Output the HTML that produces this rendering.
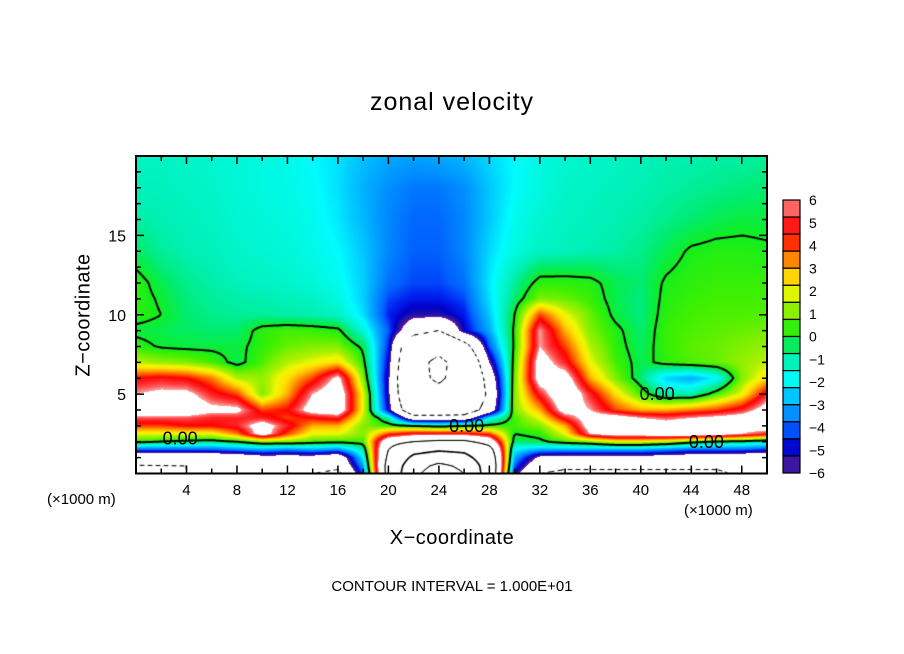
<!DOCTYPE html>
<html><head><meta charset="utf-8"><style>
body{margin:0;background:#fff;}
#wrap{position:relative;width:904px;height:654px;overflow:hidden;background:#fff;font-family:"Liberation Sans",sans-serif;}
.t{position:absolute;color:#000;white-space:nowrap;}
canvas{position:absolute;left:0;top:0;}
</style></head><body>
<div id="wrap">
<canvas id="cv" width="904" height="654"></canvas>
<svg id="ov" width="904" height="654" style="position:absolute;left:0;top:0"></svg>
<div class="t" style="left:0;width:904px;text-align:center;top:88px;font-size:25px;letter-spacing:1px;">zonal velocity</div>
<div class="t" style="left:84px;top:315px;font-size:20px;transform:translate(-50%,-50%) rotate(-90deg);letter-spacing:0.5px;">Z−coordinate</div>
<div class="t" style="left:0;width:904px;text-align:center;top:527px;font-size:20px;letter-spacing:0.5px;">X−coordinate</div>
<div class="t" style="left:47px;top:491px;font-size:15px;">(×1000 m)</div>
<div class="t" style="left:684px;top:502px;font-size:15px;">(×1000 m)</div>
<div class="t" style="left:0;width:904px;text-align:center;top:578px;font-size:15px;">CONTOUR INTERVAL = 1.000E+01</div>
</div>
<script>
const xCoords=[0,2,4,6,8,10,12,14,16,18,20,22,24,26,28,30,32,34,36,38,40,42,44,46,48,50];
const zCoords=[20,18,16,14,12,11,10,9,8,7,6,5,4,3.5,3,2.5,2,1.5,1,0.5,0];
const velocity=[
[-1.2,-1.2,-1.3,-1.4,-1.5,-1.6,-1.7,-2,-2.3,-2.7,-3,-3.1,-3,-2.8,-2.4,-2,-1.6,-1.4,-1.3,-1.2,-1.1,-1,-1,-0.9,-0.9,-0.8],
[-1.1,-1.1,-1.2,-1.3,-1.5,-1.6,-1.7,-1.9,-2.3,-2.9,-3.4,-3.7,-3.7,-3.4,-2.6,-2,-1.6,-1.3,-1.2,-1.1,-1,-0.9,-0.8,-0.7,-0.6,-0.5],
[-0.9,-1,-1.1,-1.2,-1.4,-1.5,-1.6,-1.8,-2.2,-2.8,-3.5,-3.9,-3.9,-3.5,-2.6,-1.8,-1.4,-1.2,-1.1,-1,-0.9,-0.7,-0.5,-0.3,-0.2,-0.2],
[-0.4,-0.8,-1,-1.1,-1.3,-1.4,-1.5,-1.7,-2,-2.6,-3.5,-4,-4,-3.5,-2.4,-1.6,-1.2,-1.1,-1,-0.9,-0.7,-0.3,0.1,0.2,0.2,0.1],
[0.3,-0.3,-0.7,-0.9,-1.1,-1.2,-1.3,-1.5,-1.8,-2.5,-3.8,-4.2,-4.2,-3.8,-2.2,-0.8,0.3,0.3,0.2,-0.3,-0.5,0.1,0.3,0.4,0.4,0.4],
[0.3,-0.1,-0.6,-0.8,-0.9,-1,-1.1,-1.2,-1.6,-2.5,-4.2,-4.6,-4.6,-4.2,-2.3,-0.5,1,0.8,0.4,-0.3,-0.6,0.2,0.4,0.5,0.5,0.5],
[0.3,0,-0.5,-0.7,-0.8,-0.8,-0.9,-1,-1.2,-2.3,-4.5,-5.4,-5.4,-4.6,-2.6,0,4,2,0.8,-0.2,-0.6,0.3,0.5,0.6,0.6,0.6],
[-0.2,-0.3,-0.4,-0.5,-0.5,0.3,0.5,0.4,0.2,-1.5,-4,-8,-10,-5,-3,0.2,6,3,1,0.2,-0.5,0.4,0.6,0.7,0.8,0.9],
[0.3,-0.1,-0.2,-0.2,-0.2,0.3,0.8,1,1,-0.2,-4.5,-15,-17,-12,-4,0.2,6,4,1.5,0.3,-0.4,0.4,0.7,0.8,1,1.2],
[1.5,1.2,1,0.5,-0.3,0.6,1.5,2,2.5,0.3,-5,-17,-22,-16,-6,0.5,7,5,2,0.5,-0.3,0.3,0.6,0.8,1.2,1.6],
[4.5,4.8,4.5,3.5,1.5,1.2,2.5,4,6.5,1,-5.5,-18,-21,-17,-8,0.8,7,7,3,1,-0.5,-2.5,-3,-2,1,2.5],
[6,6.5,6.5,5,4,1,3,6,7.5,2,-5.5,-17,-18,-16,-9,1,5,8,5,2.5,0.5,-1,-1,0.5,2,5],
[8,8,7.5,6.5,6.5,4,4.5,7,7.5,2,-5,-14,-14,-13,-8,1,3,7,6,4,3,3,3.5,4,5,7],
[5.5,5.5,5.5,5,5,5,4,4.5,5,1.5,-1,-8,-8,-8,-2,0.5,2,5,7,7,6,5.5,6,6.5,7,8],
[4,4,4.5,4.5,5,7,5,3,3,1,0.5,0,-0.5,0,0.3,0.5,1,3,7,7.5,7.5,7,7.5,7.5,7,7.5],
[2,2,2,2,3.5,7,4,2,2,1,4,5,5,5,4,0,0.3,2,6,7,7,7.5,7.5,7,6,5],
[0.3,0,-0.3,-0.5,0,1,1,0.5,0.3,0.5,8,10,11,11,8,-0.5,-0.2,0.5,1,2,2,1.5,0.5,-0.3,-0.5,-1],
[-4,-4,-4,-4,-3.5,-3,-3.5,-3,-3.5,-1,10,17,19,18,12,-2,-3,-3,-3,-3,-3,-3.5,-4,-4,-4,-4.5],
[-9,-9,-9,-8.5,-8,-7,-7,-7,-8,-2,11,22,25,23,14,-3,-6.5,-7,-7,-7,-7,-7,-7.5,-7.5,-8,-8.5],
[-10,-10,-10,-9,-8,-8,-7,-8,-9,-3,12,26,32,28,15,-4,-8,-9,-9,-9,-9,-9,-9,-9,-8,-9],
[-12,-11,-10,-10,-9,-9,-8,-10,-11,-4,12,28,35,30,15,-5,-10,-11,-11,-11,-11,-11,-11,-11,-9,-10]
];
const colorTickLabels=["6","5","4","3","2","1","0","−1","−2","−3","−4","−5","−6"];
const xTickLabels=["4","8","12","16","20","24","28","32","36","40","44","48"];
const zTickLabels=["5","10","15"];
const contourLevels=[-20,-10,0,10,20,30];
const zeroLabelSpots=[[3.5,2.2],[26.2,3.0],[41.3,5.0],[45.2,2.0]];

const PL=136,PT=156,PR=767,PB=473.5,PW=PR-PL,PH=PB-PT;
const X0=0,X1=50,Z0=0,Z1=20;
function sx(x){return PL+(x-X0)/(X1-X0)*PW;}
function sz(z){return PB-(z-Z0)/(Z1-Z0)*PH;}
function field(x,z){
  let n=xCoords.length;
  let i=0; while(i<n-2&&x>xCoords[i+1])i++;
  let tx=(x-xCoords[i])/(xCoords[i+1]-xCoords[i]); tx=Math.max(0,Math.min(1,tx));
  let m=zCoords.length;
  let k=0; while(k<m-2&&z<zCoords[k+1])k++;
  let tz=(zCoords[k]-z)/(zCoords[k]-zCoords[k+1]); tz=Math.max(0,Math.min(1,tz));
  const a=velocity[k][i],b=velocity[k][i+1],c=velocity[k+1][i],d=velocity[k+1][i+1];
  return (a*(1-tx)+b*tx)*(1-tz)+(c*(1-tx)+d*tx)*tz;
}
const stops=[[-6,"7010a8"],[-5.5,"2818a0"],[-5,"0000c8"],[-4.5,"0020f0"],[-4,"0060ff"],[-3.5,"0088ff"],[-3,"00aaff"],[-2.5,"00d0ff"],[-2,"00fcff"],[-1.5,"00f8d8"],[-1,"00f0b4"],[-0.5,"00ec70"],[0,"10ee20"],[0.5,"40f000"],[1,"80f000"],[1.5,"b0f000"],[2,"f0f800"],[2.5,"ffe000"],[3,"ffb000"],[3.5,"ff7800"],[4,"ff4000"],[4.5,"ff0000"],[5,"ff2020"],[5.5,"ff5050"],[6,"ffa0a0"]].map(s=>[s[0],parseInt(s[1].slice(0,2),16),parseInt(s[1].slice(2,4),16),parseInt(s[1].slice(4,6),16)]);
function cmap(v){
  if(v>6||v<-6)return [255,255,255];
  for(let i=0;i<stops.length-1;i++){
    if(v<=stops[i+1][0]){const t=(v-stops[i][0])/(stops[i+1][0]-stops[i][0]);const a=stops[i],b=stops[i+1];
      return [a[1]+(b[1]-a[1])*t,a[2]+(b[2]-a[2])*t,a[3]+(b[3]-a[3])*t];}
  }
  return [255,160,160];
}
const cv=document.getElementById('cv'),ctx=cv.getContext('2d');
const L=Math.round(PL),T=Math.round(PT),W=Math.round(PW),H=Math.round(PH);
const img=ctx.createImageData(W,H);
for(let py=0;py<H;py++){for(let px=0;px<W;px++){
  const x=X0+(px+0.5)/PW*(X1-X0), z=Z0+(PB-(T+py+0.5))/PH*(Z1-Z0);
  const c=cmap(field(x,z)); const o=(py*W+px)*4;
  img.data[o]=c[0];img.data[o+1]=c[1];img.data[o+2]=c[2];img.data[o+3]=255;}}
ctx.putImageData(img,L,T);
const st=2,nx=Math.ceil(W/st)+1,ny=Math.ceil(H/st)+1,G=[];
for(let j=0;j<ny;j++){G.push([]);for(let i=0;i<nx;i++){const px=Math.min(i*st,W),py=Math.min(j*st,H);
  G[j].push(field(X0+px/PW*(X1-X0),Z0+(PH-py)/PH*(Z1-Z0)));}}
ctx.save();ctx.beginPath();ctx.rect(L,T,W,H);ctx.clip();
contourLevels.forEach(lv=>{
  ctx.strokeStyle='#000';ctx.lineWidth=lv===0?2:(lv===20?1.6:1);ctx.lineCap='round';
  ctx.beginPath();
  for(let j=0;j<ny-1;j++)for(let i=0;i<nx-1;i++){
    if(lv<0&&(((i+j)>>1)%2===1))continue;
    const v=[G[j][i],G[j][i+1],G[j+1][i+1],G[j+1][i]];
    const p=[[i,j],[i+1,j],[i+1,j+1],[i,j+1]];
    const pts=[];
    for(let e=0;e<4;e++){const a=v[e],b=v[(e+1)%4];
      if((a<lv)!==(b<lv)){const t=(lv-a)/(b-a);const pa=p[e],pb=p[(e+1)%4];
        pts.push([L+(pa[0]+(pb[0]-pa[0])*t)*st,T+(pa[1]+(pb[1]-pa[1])*t)*st]);}}
    if(pts.length>=2){ctx.moveTo(pts[0][0],pts[0][1]);ctx.lineTo(pts[1][0],pts[1][1]);}
    if(pts.length===4){ctx.moveTo(pts[2][0],pts[2][1]);ctx.lineTo(pts[3][0],pts[3][1]);}
  }
  ctx.stroke();
});
ctx.restore();
const NS='http://www.w3.org/2000/svg',ov=document.getElementById('ov');
function mk(tag,at,txt){const e=document.createElementNS(NS,tag);for(const k in at)e.setAttribute(k,at[k]);if(txt!==undefined)e.textContent=txt;ov.appendChild(e);return e;}
zeroLabelSpots.forEach(s=>{
  const e=mk('text',{x:sx(s[0]),y:sz(s[1])+6,'text-anchor':'middle','font-size':18,'font-family':'Liberation Sans, sans-serif',fill:'#000'},'0.00');
  
  
});
const fr=mk('rect',{x:PL,y:PT,width:PW,height:PH,fill:'none',stroke:'#000','stroke-width':2});


for(let x=2;x<50;x+=2){const major=(x%4===0),len=major?8:5;
  mk('line',{x1:sx(x),x2:sx(x),y1:PB,y2:PB-len,stroke:'#000','stroke-width':1.5});
  mk('line',{x1:sx(x),x2:sx(x),y1:PT,y2:PT+len,stroke:'#000','stroke-width':1.5});}
for(let z=1;z<20;z++){const major=(z%5===0),len=major?8:5;
  mk('line',{x1:PL,x2:PL+len,y1:sz(z),y2:sz(z),stroke:'#000','stroke-width':1.5});
  mk('line',{x1:PR,x2:PR-len,y1:sz(z),y2:sz(z),stroke:'#000','stroke-width':1.5});}
xTickLabels.forEach(l=>{const e=mk('text',{x:sx(+l),y:495,'text-anchor':'middle','font-size':15,'font-family':'Liberation Sans, sans-serif'},l);
  
  });
zTickLabels.forEach(l=>{const e=mk('text',{x:126,y:sz(+l)+6,'text-anchor':'end','font-size':16,'font-family':'Liberation Sans, sans-serif'},l);
  
  });
const CBL=783,CBR=800,CBT=200,CBB=473,nb=16;
for(let b=0;b<nb;b++){const v=6-(b+0.5)*12/nb;const c=cmap(v);const h=(CBB-CBT)/nb;
  const r=mk('rect',{x:CBL,y:CBT+b*h,width:CBR-CBL,height:h,fill:`rgb(${c[0]|0},${c[1]|0},${c[2]|0})`,stroke:'#000','stroke-width':1.2});
  
  }
colorTickLabels.forEach((l,i)=>{const y=CBT+i*(CBB-CBT)/12;
  const e=mk('text',{x:809,y:y+5,'font-size':14,'font-family':'Liberation Sans, sans-serif'},l);
  
  });
</script>
</body></html>
